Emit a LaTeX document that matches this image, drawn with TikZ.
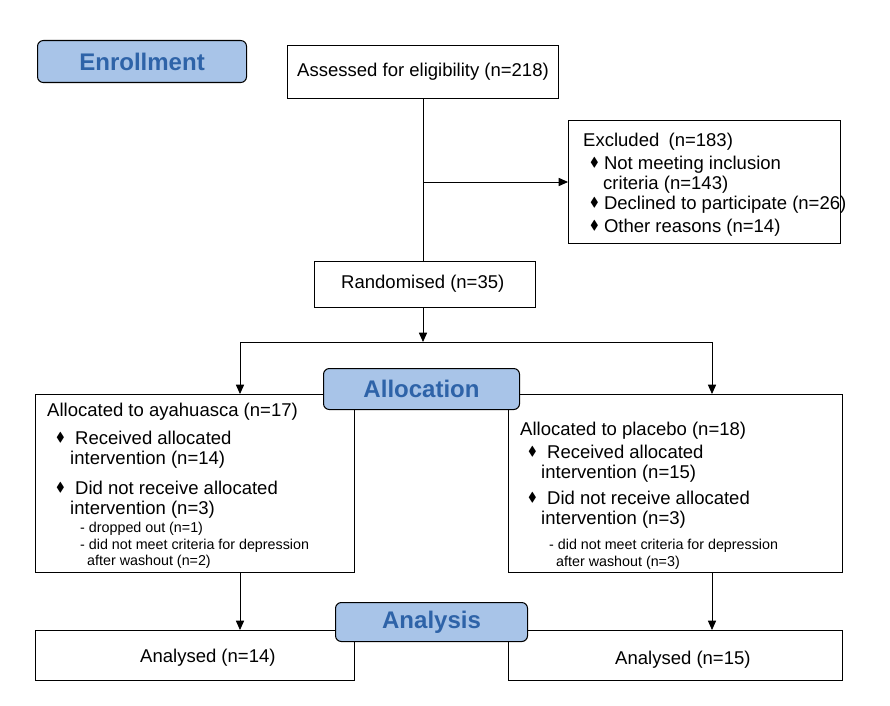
\documentclass[tikz,border=0pt]{standalone}
\usepackage{fontspec}
\usepackage{amssymb}
\setmainfont{Liberation Sans}
\usetikzlibrary{positioning,arrows.meta}
\definecolor{stagefill}{HTML}{A8C4E8}
\definecolor{stagetext}{HTML}{2E63A8}
\newcommand{\bul}{\raisebox{0.3ex}{$\scriptstyle\blacklozenge$}}
\begin{document}
\begin{tikzpicture}[x=0.03cm,y=-0.03cm]
  \tikzset{
    box/.style={draw,line width=0.6pt,inner sep=0pt,anchor=north west},
    stage/.style={draw,line width=0.9pt,rounded corners=5pt,fill=stagefill,
      text=stagetext,font=\fontsize{20.5}{24}\selectfont\bfseries,anchor=north west,inner sep=0pt},
    txt/.style={font=\fontsize{15.8}{18}\selectfont,anchor=west,inner sep=0pt},
    sml/.style={font=\fontsize{12.2}{14}\selectfont,anchor=west,inner sep=0pt},
    arr/.style={-{Triangle[length=8pt,width=7pt]},line width=0.7pt},
  }
  \useasboundingbox (0,0) rectangle (890,706);
  % boxes
  \node[box,minimum width=271*0.03cm,minimum height=53*0.03cm] (assess) at (287,45) {};
  \node[box,minimum width=272*0.03cm,minimum height=123*0.03cm] (excl) at (568,120) {};
  \node[box,minimum width=221*0.03cm,minimum height=46*0.03cm] (rand) at (314,261) {};
  \node[box,minimum width=319*0.03cm,minimum height=178*0.03cm] (ayah) at (35,394) {};
  \node[box,minimum width=334*0.03cm,minimum height=178*0.03cm] (plac) at (508,394) {};
  \node[box,minimum width=319*0.03cm,minimum height=50*0.03cm] (anl) at (35,630) {};
  \node[box,minimum width=334*0.03cm,minimum height=50*0.03cm] (anr) at (508,630) {};
  % stage labels
  \node[stage,minimum width=209*0.03cm,minimum height=42*0.03cm] (enrol) at (37,40) {Enrollment};
  \node[stage,minimum width=196*0.03cm,minimum height=41*0.03cm] (alloc) at (323,368) {Allocation};
  \node[stage,minimum width=192*0.03cm,minimum height=39*0.03cm] (anal) at (335,602) {Analysis};

  % texts
  \node[txt] (tassess) at (297,72) {Assessed for eligibility (n=218)};
  \node[txt] (texcl) at (583,142) {Excluded\enspace(n=183)};
  \node[txt] at (590,165) {\bul\ Not meeting inclusion};
  \node[txt] at (603,185) {criteria (n=143)};
  \node[txt] at (590,205) {\bul\ Declined to participate (n=26)};
  \node[txt] at (590,228) {\bul\ Other reasons (n=14)};
  \node[txt] (trand) at (341,284) {Randomised (n=35)};

  \node[txt] at (47,412) {Allocated to ayahuasca (n=17)};
  \node[txt] at (56,438) {\bul\ \ Received allocated};
  \node[txt] at (70,460) {intervention (n=14)};
  \node[txt] at (56,488) {\bul\ \ Did not receive allocated};
  \node[txt] at (70,510) {intervention (n=3)};
  \node[sml] at (80,529) {- dropped out (n=1)};
  \node[sml] at (80,546) {- did not meet criteria for depression};
  \node[sml] at (87,562) {after washout (n=2)};

  \node[txt] at (520,431) {Allocated to placebo (n=18)};
  \node[txt] at (528,452) {\bul\ \ Received allocated};
  \node[txt] at (541,474) {intervention (n=15)};
  \node[txt] at (528,498) {\bul\ \ Did not receive allocated};
  \node[txt] at (541,520) {intervention (n=3)};
  \node[sml] at (549,546) {- did not meet criteria for depression};
  \node[sml] at (556,563) {after washout (n=3)};

  \node[txt] at (140,658) {Analysed (n=14)};
  \node[txt] at (615,660) {Analysed (n=15)};

  % connectors
  \coordinate (split) at (423,182);
  \coordinate (fork) at (423,342);
  \coordinate (forkl) at (240,342);
  \coordinate (forkr) at (712,342);
  \draw[line width=0.7pt] (split |- assess.south) -- (split |- rand.north);
  \draw[arr] (split) -- (excl.west |- split);
  \draw[arr] (split |- rand.south) -- (fork);
  \draw[line width=0.7pt] (forkl) -- (forkr);
  \draw[arr] (forkl) -- (forkl |- ayah.north);
  \draw[arr] (forkr) -- (forkr |- plac.north);
  \draw[arr] (forkl |- ayah.south) -- (forkl |- anl.north);
  \draw[arr] (forkr |- plac.south) -- (forkr |- anr.north);
\end{tikzpicture}
\end{document}
